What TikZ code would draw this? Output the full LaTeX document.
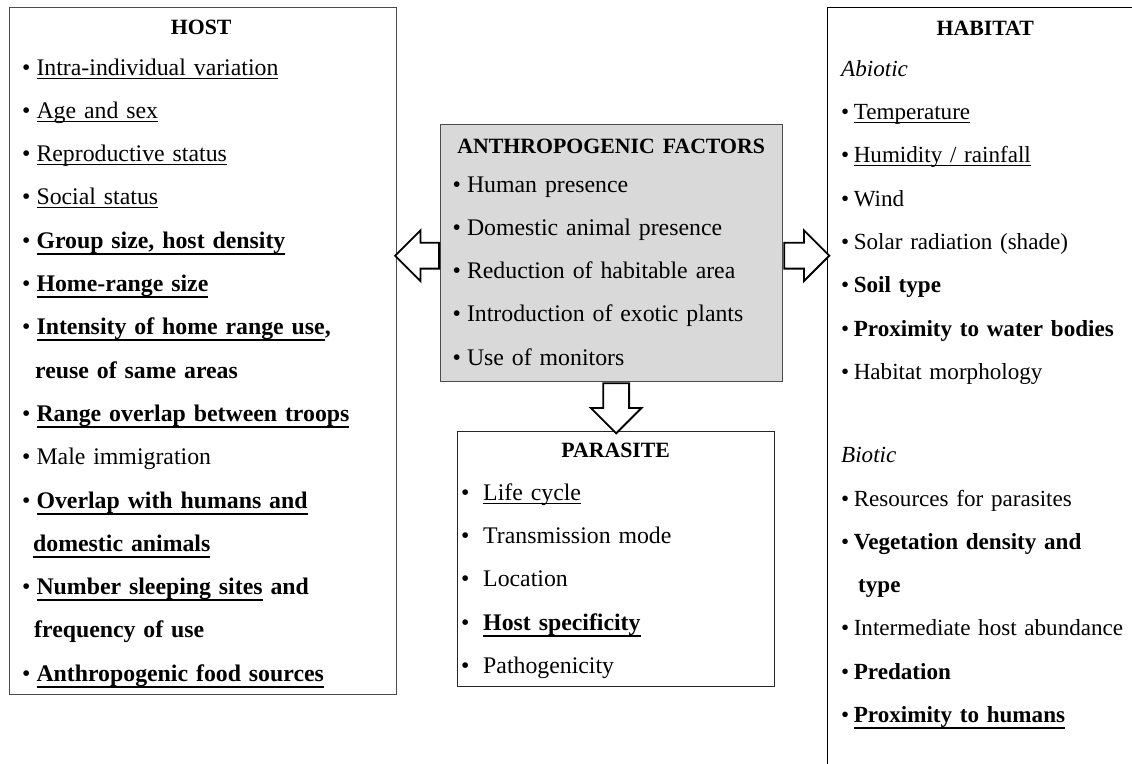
\documentclass[tikz,border=0pt]{standalone}
\usepackage{fontspec}
\setmainfont{Liberation Serif}
\usetikzlibrary{shapes.arrows}

\newlength{\blgap}
\newsavebox{\ulbox}
\newcommand{\bl}{\textbullet\hspace{\blgap}}
\newcommand{\uln}[1]{\sbox{\ulbox}{#1}\rlap{\rule[-3.5pt]{\wd\ulbox}{1pt}}\usebox{\ulbox}}
\newcommand{\ulbf}[1]{\sbox{\ulbox}{\textbf{#1}}\rlap{\rule[-6.5pt]{\wd\ulbox}{2pt}}\usebox{\ulbox}}
\newcommand{\boxtitle}[2]{\makebox[#1]{\fontsize{21.8}{43.3}\selectfont\textbf{#2}}}

\begin{document}
\begin{tikzpicture}[x=1pt,y=-1pt,
  box/.style={draw=black!70, line width=1.4pt, rectangle, anchor=north west, inner sep=0pt},
  txt/.style={anchor=base west, inner sep=0pt, align=left, font=\fontsize{23.8}{43.3}\selectfont},
  blockarrow/.style={single arrow, draw=black, line width=1.8pt, fill=white, inner xsep=0pt, inner ysep=12pt, single arrow head extend=12.5pt, anchor=tail}]

\useasboundingbox (0,0) rectangle (1132,763);
\clip (0,0) rectangle (1132,763);

% boxes
\node[box, minimum width=387pt, minimum height=687pt] (host) at (9,7) {};
\node[box, fill=black!15, minimum width=342pt, minimum height=257pt] (anthro) at (440,124) {};
\node[box, draw=black!85, minimum width=317pt, minimum height=255pt] (parasite) at (457,431) {};
\node[box, draw=black, line width=1pt, minimum width=320pt, minimum height=780pt] (habitat) at (827,7) {};

% block arrows
\node[blockarrow, shape border rotate=180, minimum height=44pt] (toHost) at ([yshift=-2.5pt]anthro.west) {};
\node[blockarrow, minimum height=45pt] (toHabitat) at ([yshift=-2.5pt]anthro.east) {};
\node[blockarrow, shape border rotate=270, inner xsep=12pt, inner ysep=0pt, minimum height=50pt] (toParasite) at (parasite.north |- anthro.south) {};

% host
\node[txt, text width=358pt] (hosttxt) at (22,34) {\setlength{\blgap}{6pt}%
  \boxtitle{358pt}{HOST}\\[-2.3pt]
  \bl\uln{Intra-individual variation}\\
  \bl\uln{Age and sex}\\
  \bl\uln{Reproductive status}\\
  \bl\uln{Social status}\\
  \bl\ulbf{Group size, host density}\\
  \bl\ulbf{Home-range size}\\
  \bl\ulbf{Intensity of home range use}\textbf{,}\\
  \hspace*{13pt}\textbf{reuse of same areas}\\
  \bl\ulbf{Range overlap between troops}\\
  \bl Male immigration\\
  \bl\ulbf{Overlap with humans and}\\
  \hspace*{11pt}\ulbf{domestic animals}\\
  \bl\ulbf{Number sleeping sites}\textbf{ and}\\
  \hspace*{12pt}\textbf{frequency of use}\\
  \bl\ulbf{Anthropogenic food sources}};

% anthropogenic factors
\node[txt, text width=317pt] (anthrotxt) at (452.5,153) {\setlength{\blgap}{6pt}%
  \boxtitle{317pt}{ANTHROPOGENIC FACTORS}\\[-4.3pt]
  \bl Human presence\\
  \bl Domestic animal presence\\
  \bl Reduction of habitable area\\
  \bl Introduction of exotic plants\\
  \bl Use of monitors};

% parasite
\node[txt, text width=309pt] (parasitetxt) at (461,457) {\setlength{\blgap}{13.7pt}%
  \boxtitle{309pt}{PARASITE}\\
  \bl\uln{Life cycle}\\
  \bl Transmission mode\\
  \bl Location\\
  \bl\ulbf{Host specificity}\\
  \bl Pathogenicity};

% habitat
\node[txt, text width=320pt, font=\fontsize{23.1}{43.3}\selectfont] (habitattxt) at (841,35) {\setlength{\blgap}{4.5pt}%
  \boxtitle{288pt}{HABITAT}\\[-2pt]
  \textit{Abiotic}\\
  \bl\uln{Temperature}\\
  \bl\uln{Humidity / rainfall}\\
  \bl Wind\\
  \bl Solar radiation (shade)\\
  \bl\textbf{Soil type}\\
  \bl\textbf{Proximity to water bodies}\\
  \bl Habitat morphology\\[40pt]
  \textit{Biotic}\\
  \bl Resources for parasites\\
  \bl\textbf{Vegetation density and}\\
  \hspace*{17pt}\textbf{type}\\
  \bl Intermediate host abundance\\
  \bl\textbf{Predation}\\
  \bl\ulbf{Proximity to humans}};

\end{tikzpicture}
\end{document}
